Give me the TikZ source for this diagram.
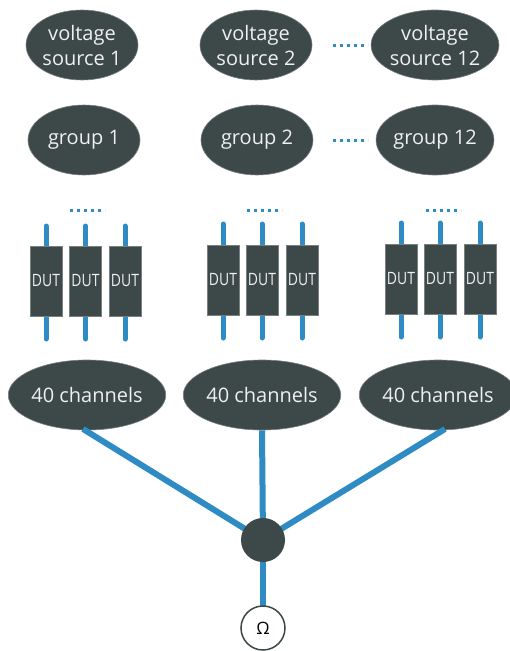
\documentclass[tikz,border=0pt]{standalone}
\usepackage{fontspec}
\setmainfont{Open Sans}
\newfontfamily\dutfont[FakeStretch=0.82]{Open Sans}
\usetikzlibrary{shapes.geometric}
\definecolor{dk}{HTML}{3D4849}
\definecolor{bl}{HTML}{2E8BC4}
\tikzset{
  oval/.style={ellipse, fill=dk, draw=dk!70!white, line width=0.6pt, text=white!92!dk, inner sep=0pt,
    minimum width=112pt, minimum height=70pt, align=center, font=\fontsize{20}{25}\selectfont},
  chan/.style={oval, minimum width=148pt},
  dut/.style={rectangle, fill=dk, draw=dk!70!white, line width=0.6pt, text=white!92!dk, inner sep=0pt,
    minimum width=32pt, minimum height=70pt, font=\dutfont\fontsize{17}{19}\selectfont},
  lead/.style={draw=bl, line width=5pt, line cap=round},
  wire/.style={draw=bl, line width=6pt},
  dots/.style={draw=bl, line width=3pt, dash pattern=on 3pt off 4pt},
  hubst/.style={circle, fill=dk, minimum size=44pt, inner sep=0pt},
  meter/.style={circle, fill=white, draw=dk, line width=1.5pt, minimum size=44pt, inner sep=0pt,
    font=\fontsize{17}{19}\selectfont},
}
\begin{document}
\begin{tikzpicture}[x=1pt,y=-1pt]
\useasboundingbox (0,0) rectangle (510,651);
% voltage sources
\node[oval] (v1) at (82,45) {voltage\\source 1};
\node[oval] (v2) at (256,45) {voltage\\source 2};
\node[oval] (v12) at (435,45) {voltage\\source 12};
% groups
\node[oval] (g1) at (84,140) {group 1};
\node[oval] (g2) at (257,140) {group 2};
\node[oval] (g12) at (435,140) {group 12};
% dots
\draw[dots] (333,45) -- (368,45);
\draw[dots] (333,140) -- (368,140);
\draw[dots] (70,210) -- (105,210);
\draw[dots] (247,210) -- (282,210);
\draw[dots] (426,210) -- (461,210);
% DUT leads
\foreach \x/\yt/\yb in {46/226/339, 85.5/226/339, 125/226/339, 223/224/338, 262/224/338, 302/224/338, 401/223/337, 440/223/337, 480/223/337}{
  \draw[lead] (\x,\yt) -- (\x,\yb);
}
% DUTs
\node[dut] (d11) at (46,281) {DUT};
\node[dut] (d12) at (85.5,281) {DUT};
\node[dut] (d13) at (125,281) {DUT};
\node[dut] (d21) at (223,280) {DUT};
\node[dut] (d22) at (262,280) {DUT};
\node[dut] (d23) at (302,280) {DUT};
\node[dut] (d31) at (401,279) {DUT};
\node[dut] (d32) at (440,279) {DUT};
\node[dut] (d33) at (480,279) {DUT};
% coordinates
\coordinate (hubc) at (263,540);
\coordinate (ohmc) at (263,628);
% channel ellipses
\node[chan] (c1) at (87,395) {40 channels};
\node[chan] (c2) at (262,395) {40 channels};
\node[chan, minimum width=144pt] (c3) at (438,395) {40 channels};
% wires
\draw[wire] (83,429) -- (hubc);
\draw[wire] (c2.south) -- (hubc);
\draw[wire] (445,429) -- (hubc);
\draw[wire] (hubc) -- (ohmc);
\node[hubst] (hub) at (hubc) {};
\node[meter] (ohm) at (ohmc) {Ω};
\end{tikzpicture}
\end{document}
